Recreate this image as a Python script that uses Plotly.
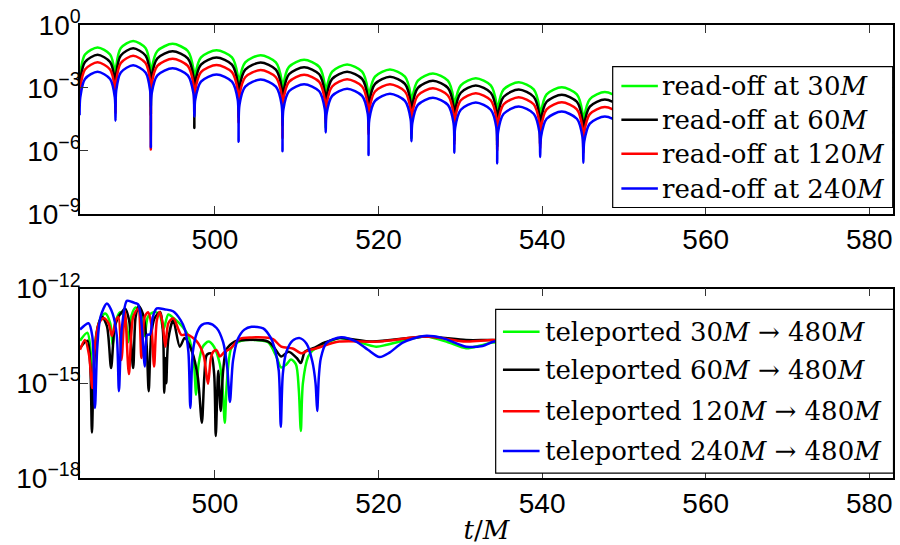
import plotly.graph_objects as go

# ---------------------------------------------------------------------------
# Upper panel: waveform amplitude read off at finite radii (log10 values)
# ---------------------------------------------------------------------------
T_TOP = [
    483.45, 483.54, 484.11, 485.65, 487.18, 487.75,
    487.84, 487.93, 488.49, 490.00, 491.51, 492.07,
    492.16, 492.27, 492.96, 494.82, 496.68, 497.37,
    497.48, 497.59, 498.29, 500.19, 502.08, 502.78,
    502.89, 503.00, 503.70, 505.58, 507.45, 508.15,
    508.26, 508.37, 509.05, 510.90, 512.75, 513.43,
    513.54, 513.64, 514.33, 516.16, 517.99, 518.68,
    518.78, 518.88, 519.57, 521.40, 523.23, 523.92,
    524.02, 524.13, 524.81, 526.65, 528.48, 529.17,
    529.27, 529.37, 530.06, 531.89, 533.72, 534.41,
    534.51, 534.62, 535.30, 537.14, 538.97, 539.66,
    539.76, 539.87, 540.55, 542.40, 544.25, 544.93,
    545.04, 545.15, 545.83, 547.67, 549.51, 550.19,
    550.30, 550.41, 551.09, 552.93, 554.76, 555.45,
    555.55, 555.66, 556.34, 558.18, 560.01, 560.70,
    560.80, 560.91, 561.59, 563.43, 565.26, 565.95,
    566.05, 566.16, 566.84, 568.68, 570.51, 571.20,
    571.30, 571.41, 572.09, 573.93, 575.76, 576.45,
    576.55, 576.66, 577.34, 579.18, 581.01, 581.70,
    581.80, 581.91, 582.59, 584.43,
]

READOFF_30M = [
    -3.00, -2.27, -1.41, -1.07, -1.41, -2.27,
    -3.60, -1.96, -1.10, -0.76, -1.10, -1.96,
    -3.90, -2.10, -1.24, -0.90, -1.24, -2.10,
    -3.40, -2.40, -1.54, -1.20, -1.54, -2.40,
    -4.00, -2.64, -1.78, -1.44, -1.78, -2.64,
    -4.50, -2.86, -2.00, -1.66, -2.00, -2.86,
    -4.90, -3.08, -2.22, -1.88, -2.22, -3.08,
    -5.00, -3.32, -2.46, -2.12, -2.46, -3.32,
    -5.40, -3.51, -2.65, -2.31, -2.65, -3.51,
    -5.30, -3.74, -2.88, -2.54, -2.88, -3.74,
    -5.60, -3.93, -3.07, -2.73, -3.07, -3.93,
    -5.45, -4.17, -3.31, -2.97, -3.31, -4.17,
    -5.78, -4.40, -3.54, -3.20, -3.54, -4.40,
    -5.80, -4.58, -3.72, -3.38, -3.72, -4.58,
    -5.80, -4.76, -3.90, -3.56, -3.90, -4.76,
    -5.90, -4.94, -4.08, -3.74, -4.08, -4.94,
    -5.90, -5.12, -4.26, -3.92, -4.26, -5.12,
    -6.00, -5.30, -4.44, -4.10, -4.44, -5.30,
    -6.30, -5.50, -4.64, -4.30, -4.64, -5.50,
    -6.50, -5.70, -4.84, -4.50,
]

READOFF_60M = [
    -3.40, -2.62, -1.76, -1.42, -1.76, -2.62,
    -3.90, -2.31, -1.45, -1.11, -1.45, -2.31,
    -4.30, -2.45, -1.59, -1.25, -1.59, -2.45,
    -4.91, -2.75, -1.89, -1.55, -1.89, -2.75,
    -4.40, -2.99, -2.13, -1.79, -2.13, -2.99,
    -4.80, -3.21, -2.35, -2.01, -2.35, -3.21,
    -4.50, -3.43, -2.57, -2.23, -2.57, -3.43,
    -5.00, -3.67, -2.81, -2.47, -2.81, -3.67,
    -5.00, -3.86, -3.00, -2.66, -3.00, -3.86,
    -5.50, -4.09, -3.23, -2.89, -3.23, -4.09,
    -5.80, -4.28, -3.42, -3.08, -3.42, -4.28,
    -5.70, -4.52, -3.66, -3.32, -3.66, -4.52,
    -5.90, -4.75, -3.89, -3.55, -3.89, -4.75,
    -6.00, -4.93, -4.07, -3.73, -4.07, -4.93,
    -6.00, -5.11, -4.25, -3.91, -4.25, -5.11,
    -6.10, -5.29, -4.43, -4.09, -4.43, -5.29,
    -6.10, -5.47, -4.61, -4.27, -4.61, -5.47,
    -6.20, -5.65, -4.79, -4.45, -4.79, -5.65,
    -6.60, -5.85, -4.99, -4.65, -4.99, -5.85,
    -6.80, -6.05, -5.19, -4.85,
]

READOFF_120M = [
    -3.80, -2.98, -2.12, -1.78, -2.12, -2.98,
    -4.20, -2.67, -1.81, -1.47, -1.81, -2.67,
    -5.94, -2.81, -1.95, -1.61, -1.95, -2.81,
    -4.10, -3.11, -2.25, -1.91, -2.25, -3.11,
    -4.67, -3.35, -2.49, -2.15, -2.49, -3.35,
    -5.40, -3.57, -2.71, -2.37, -2.71, -3.57,
    -4.70, -3.79, -2.93, -2.59, -2.93, -3.79,
    -5.20, -4.03, -3.17, -2.83, -3.17, -4.03,
    -5.20, -4.22, -3.36, -3.02, -3.36, -4.22,
    -5.70, -4.45, -3.59, -3.25, -3.59, -4.45,
    -6.00, -4.64, -3.78, -3.44, -3.78, -4.64,
    -5.90, -4.88, -4.02, -3.68, -4.02, -4.88,
    -6.10, -5.11, -4.25, -3.91, -4.25, -5.11,
    -6.20, -5.29, -4.43, -4.09, -4.43, -5.29,
    -6.20, -5.47, -4.61, -4.27, -4.61, -5.47,
    -6.30, -5.65, -4.79, -4.45, -4.79, -5.65,
    -6.30, -5.83, -4.97, -4.63, -4.97, -5.83,
    -6.70, -6.01, -5.15, -4.81, -5.15, -6.01,
    -6.80, -6.21, -5.35, -5.01, -5.35, -6.21,
    -7.00, -6.41, -5.55, -5.21,
]

READOFF_240M = [
    -4.30, -3.43, -2.57, -2.23, -2.57, -3.43,
    -4.56, -3.12, -2.26, -1.92, -2.26, -3.12,
    -5.83, -3.26, -2.40, -2.06, -2.40, -3.26,
    -4.36, -3.56, -2.70, -2.36, -2.70, -3.56,
    -5.57, -3.80, -2.94, -2.60, -2.94, -3.80,
    -6.02, -4.02, -3.16, -2.82, -3.16, -4.02,
    -5.12, -4.24, -3.38, -3.04, -3.38, -4.24,
    -6.20, -4.48, -3.62, -3.28, -3.62, -4.48,
    -5.54, -4.67, -3.81, -3.47, -3.81, -4.67,
    -6.09, -4.90, -4.04, -3.70, -4.04, -4.90,
    -6.60, -5.09, -4.23, -3.89, -4.23, -5.09,
    -6.30, -5.33, -4.47, -4.13, -4.47, -5.33,
    -6.57, -5.56, -4.70, -4.36, -4.70, -5.56,
    -6.70, -5.74, -4.88, -4.54, -4.88, -5.74,
    -6.80, -5.92, -5.06, -4.72, -5.06, -5.92,
    -6.90, -6.10, -5.24, -4.90, -5.24, -6.10,
    -7.00, -6.28, -5.42, -5.08, -5.42, -6.28,
    -7.10, -6.46, -5.60, -5.26, -5.60, -6.46,
    -7.20, -6.66, -5.80, -5.46, -5.80, -6.66,
    -7.30, -6.86, -6.00, -5.66,
]

# ---------------------------------------------------------------------------
# Lower panel: error of waveforms teleported to 480M (log10 values)
# ---------------------------------------------------------------------------
T_TEL_30M = [
    483.50, 484.40, 484.80, 485.05, 485.40, 486.00, 486.60, 487.20, 487.50,
    487.80, 488.40, 489.00, 489.40, 489.80, 490.30, 490.90, 491.40, 491.80,
    492.50, 493.20, 493.70, 494.30, 495.00, 496.00, 496.70, 497.40, 497.70,
    498.00, 498.50, 499.20, 499.90, 500.60, 500.95, 501.20, 501.45, 502.00,
    502.80, 503.70, 505.00, 506.50, 507.50, 508.10, 508.70, 509.30, 509.90,
    510.25, 510.50, 510.75, 511.40, 512.00, 512.80, 515.20, 517.00, 519.70,
    521.00, 522.60, 525.80, 528.50, 530.70, 532.50, 533.90, 540.00, 550.00,
    560.00, 570.00, 583.00,
]
TEL_30M = [
    -13.65, -13.40, -14.00, -15.20, -13.60, -12.95, -12.79, -13.10, -13.80,
    -13.10, -12.75, -12.90, -13.70, -12.85, -12.60, -12.75, -13.50, -12.90,
    -12.75, -12.80, -13.30, -12.82, -12.95, -13.20, -13.47, -14.30, -15.36,
    -14.40, -13.85, -13.68, -13.85, -14.40, -15.20, -16.25, -15.00, -13.89,
    -13.70, -13.63, -13.63, -13.70, -14.15, -14.50, -14.41, -14.25, -14.40,
    -15.20, -16.51, -15.00, -14.15, -13.95, -13.84, -13.57, -13.65, -13.84,
    -13.78, -13.68, -13.52, -13.70, -13.89, -13.80, -13.71, -13.70, -13.72,
    -13.75, -13.75, -13.78,
]

T_TEL_60M = [
    483.50, 484.40, 484.75, 484.96, 485.20, 485.70, 486.20, 486.80, 487.30,
    487.70, 488.10, 488.60, 489.00, 489.50, 490.00, 490.30, 490.70, 491.30,
    491.65, 491.90, 492.20, 492.60, 493.30, 493.65, 493.80, 493.95, 494.05,
    494.30, 494.90, 495.70, 496.30, 497.20, 497.90, 498.40, 498.70, 499.00,
    499.50, 499.90, 500.10, 500.40, 500.70, 501.00, 501.40, 502.40, 503.70,
    506.50, 507.30, 508.10, 509.00, 510.00, 510.50, 511.00, 512.00, 513.50,
    515.20, 519.30, 525.80, 530.70, 533.90, 540.00, 550.00, 560.00, 570.00,
    583.00,
]
TEL_60M = [
    -13.89, -13.65, -14.40, -16.56, -14.50, -13.20, -12.89, -13.20, -14.52,
    -13.30, -12.94, -12.75, -12.63, -13.00, -14.52, -12.90, -12.55, -12.90,
    -13.80, -15.25, -13.50, -12.95, -12.74, -13.40, -15.30, -14.20, -15.00,
    -13.60, -13.00, -13.84, -13.57, -14.00, -14.80, -16.25, -14.80, -14.10,
    -14.05, -14.70, -16.67, -14.60, -15.88, -14.60, -13.94, -13.68, -13.63,
    -13.68, -13.89, -14.15, -14.00, -14.20, -14.36, -14.00, -13.89, -13.70,
    -13.57, -13.68, -13.52, -13.63, -13.63, -13.68, -13.72, -13.72, -13.74,
    -13.75,
]

T_TEL_120M = [
    483.50, 484.10, 484.60, 485.00, 485.30, 485.80, 486.40, 487.00, 487.40,
    487.90, 488.20, 488.57, 488.99, 489.48, 490.00, 490.61, 491.01, 491.40,
    491.83, 492.20, 492.56, 492.90, 493.26, 493.60, 493.94, 494.30, 494.90,
    495.90, 496.60, 497.80, 498.60, 499.15, 499.50, 499.80, 500.20, 500.60,
    501.20, 501.90, 503.00, 504.50, 506.00, 507.10, 508.10, 509.50, 510.60,
    511.20, 512.40, 515.20, 520.10, 525.80, 530.70, 533.90, 540.00, 550.00,
    560.00, 570.00, 583.00,
]
TEL_120M = [
    -13.94, -13.63, -14.10, -15.15, -13.90, -13.10, -12.94, -13.10, -13.50,
    -13.00, -12.90, -14.26, -12.71, -14.71, -12.90, -12.63, -14.20, -12.90,
    -12.75, -13.10, -14.47, -13.00, -12.74, -13.10, -13.84, -13.10, -12.94,
    -13.47, -13.45, -13.68, -14.10, -15.02, -14.20, -14.00, -13.95, -14.15,
    -14.00, -13.90, -13.60, -13.55, -13.55, -13.60, -13.84, -13.90, -14.05,
    -13.98, -13.89, -13.68, -13.68, -13.52, -13.68, -13.63, -13.66, -13.75,
    -13.78, -13.80, -13.82,
]

T_TEL_240M = [
    483.50, 484.55, 485.00, 485.33, 485.60, 486.00, 486.79, 487.50, 488.00,
    488.26, 488.60, 489.23, 489.80, 490.24, 490.60, 490.95, 491.43, 491.70,
    492.07, 492.40, 492.89, 493.90, 494.88, 495.80, 496.34, 496.75, 496.99,
    497.30, 497.80, 498.40, 499.18, 500.20, 501.00, 501.50, 501.83, 502.20,
    502.80, 503.60, 504.48, 505.90, 506.80, 507.30, 507.80, 508.05, 508.30,
    508.74, 509.50, 510.37, 511.20, 511.90, 512.30, 512.50, 512.70, 512.95,
    513.62, 515.45, 517.28, 518.70, 520.12, 521.34, 522.96, 525.61, 527.84,
    530.70, 532.72, 534.15, 538.00, 545.00, 555.00, 565.00, 575.00, 583.00,
]
TEL_240M = [
    -13.30, -13.10, -13.50, -15.78, -13.90, -12.90, -12.47, -12.80, -13.50,
    -15.25, -13.30, -12.39, -12.42, -12.46, -12.50, -12.90, -14.47, -13.47,
    -13.45, -12.90, -12.63, -12.66, -12.72, -13.00, -13.31, -14.00, -15.78,
    -14.00, -13.40, -13.15, -13.10, -13.25, -13.70, -14.50, -15.59, -14.30,
    -13.60, -13.30, -13.21, -13.26, -13.55, -13.89, -14.60, -16.38, -14.70,
    -14.00, -13.65, -13.57, -13.75, -14.30, -15.00, -15.88, -14.80, -14.20,
    -13.73, -13.54, -13.68, -13.94, -14.17, -14.03, -13.71, -13.50, -13.57,
    -13.84, -13.82, -13.68, -13.65, -13.70, -13.72, -13.70, -13.70, -13.69,
]

# ---------------------------------------------------------------------------
# Labels, ticks and colours
# ---------------------------------------------------------------------------
COLORS = ["#00ff00", "#000000", "#ff0000", "#0000ff"]
TOP_LABELS = [
    "read-off at 30<i>M</i>",
    "read-off at 60<i>M</i>",
    "read-off at 120<i>M</i>",
    "read-off at 240<i>M</i>",
]
BOT_LABELS = [
    "teleported 30<i>M</i> → 480<i>M</i>",
    "teleported 60<i>M</i> → 480<i>M</i>",
    "teleported 120<i>M</i> → 480<i>M</i>",
    "teleported 240<i>M</i> → 480<i>M</i>",
]
X_TICKS = [500, 520, 540, 560, 580]
Y_TOP_TICKS = [1e-9, 1e-6, 1e-3, 1e0]
Y_TOP_TEXT = ["10<sup>−9</sup>", "10<sup>−6</sup>", "10<sup>−3</sup>", "10<sup>0</sup>"]
Y_BOT_TICKS = [1e-18, 1e-15, 1e-12]
Y_BOT_TEXT = ["10<sup>−18</sup>", "10<sup>−15</sup>", "10<sup>−12</sup>"]
X_LABEL = "<i>t</i>/<i>M</i>"


def exp10(seq):
    return [10.0 ** v for v in seq]


# Page geometry (pixels) and helpers to place things in paper coordinates
W, H = 900, 545
ML, MR, MT, MB = 80, 5, 23, 66
PW, PH = W - ML - MR, H - MT - MB


def px(X):
    return (X - ML) / PW


def py(Y):
    return (H - MB - Y) / PH


SERIF = "DejaVu Serif"
SANS = "Liberation Sans, Arial, sans-serif"

fig = go.Figure()

top_series = [READOFF_30M, READOFF_60M, READOFF_120M, READOFF_240M]
for vals, color, label in zip(top_series, COLORS, TOP_LABELS):
    fig.add_trace(go.Scatter(
        x=T_TOP, y=exp10(vals), mode="lines", name=label,
        line=dict(color=color, width=2.5, shape="spline", smoothing=0.8),
        xaxis="x", yaxis="y", showlegend=False,
    ))

bot_series = [(T_TEL_30M, TEL_30M), (T_TEL_60M, TEL_60M),
              (T_TEL_120M, TEL_120M), (T_TEL_240M, TEL_240M)]
for (tt, vals), color, label in zip(bot_series, COLORS, BOT_LABELS):
    fig.add_trace(go.Scatter(
        x=tt, y=exp10(vals), mode="lines", name=label,
        line=dict(color=color, width=2.5, shape="spline", smoothing=0.8),
        xaxis="x2", yaxis="y2", showlegend=False,
    ))

axis_common = dict(
    showline=True, linecolor="black", linewidth=1.5, mirror="ticks",
    ticks="inside", ticklen=8, tickwidth=1, tickcolor="#333333",
    showgrid=False, zeroline=False,
    tickfont=dict(family=SANS, size=28, color="black"),
)

fig.update_layout(
    width=W, height=H,
    margin=dict(l=ML, r=MR, t=MT, b=MB),
    paper_bgcolor="white", plot_bgcolor="white",
    showlegend=False,
    xaxis=dict(axis_common, domain=[0, 1], anchor="y", range=[483.5, 582.9],
               tickvals=X_TICKS),
    yaxis=dict(axis_common, domain=[py(213), 1], anchor="x", type="log",
               range=[-9, 0], tickvals=Y_TOP_TICKS, ticktext=Y_TOP_TEXT,
               ticklabelstandoff=-8),
    xaxis2=dict(axis_common, domain=[0, 1], anchor="y2", range=[483.5, 582.9],
                tickvals=X_TICKS,
                title=dict(text=X_LABEL, font=dict(family=SERIF, size=26, color="black"),
                           standoff=2)),
    yaxis2=dict(axis_common, domain=[0, py(288.3)], anchor="x2", type="log",
                range=[-18, -12], tickvals=Y_BOT_TICKS, ticktext=Y_BOT_TEXT,
                ticklabelstandoff=-8),
)


def draw_legend(box, swatch, text_x, rows, labels):
    x0, x1, y0, y1 = box
    fig.add_shape(type="rect", xref="paper", yref="paper",
                  x0=px(x0), x1=px(x1), y0=py(y1), y1=py(y0),
                  line=dict(color="black", width=1.2), fillcolor="white",
                  layer="above")
    for yrow, color, label in zip(rows, COLORS, labels):
        fig.add_shape(type="line", xref="paper", yref="paper",
                      x0=px(swatch[0]), x1=px(swatch[1]), y0=py(yrow), y1=py(yrow),
                      line=dict(color=color, width=2.5), layer="above")
        fig.add_annotation(xref="paper", yref="paper", x=px(text_x), y=py(yrow),
                           text=label, showarrow=False, xanchor="left",
                           yanchor="middle",
                           font=dict(family=SERIF, size=26, color="black"))


draw_legend((614, 894.7, 65, 206.7), (622.7, 659.3), 661,
            [84.3, 118.3, 152.7, 187.7], TOP_LABELS)
draw_legend((496.7, 895.5, 309.3, 474), (504, 540.7), 544,
            [331.7, 370, 411.7, 451.7], BOT_LABELS)

fig.write_html("out.html")
